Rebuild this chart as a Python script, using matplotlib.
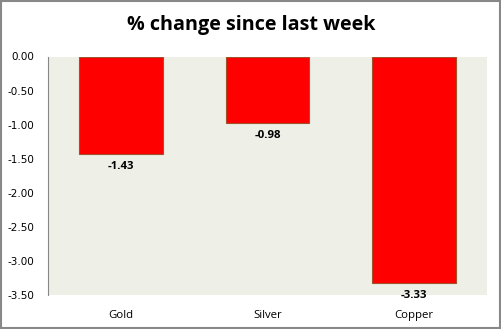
import matplotlib
matplotlib.use("Agg")
import matplotlib.pyplot as plt
from matplotlib.patches import Rectangle

categories = ["Gold", "Silver", "Copper"]
values = [-1.43, -0.98, -3.33]
yticks = [0.0, -0.5, -1.0, -1.5, -2.0, -2.5, -3.0, -3.5]

fig = plt.figure(figsize=(5.02, 3.29), dpi=100)
ax = fig.add_axes([48/502, 1-295/329, (487-48)/502, (295-56.5)/329])
ax.set_facecolor("#EEEFE7")

x = list(range(len(categories)))
bars = ax.bar(x, values, width=0.57, color="#FF0000", edgecolor="#A0522D", linewidth=0.8, zorder=2)
ax.set_xlim(-0.5, len(categories) - 0.5)
ax.set_ylim(-3.5, 0.0)
ax.set_yticks(yticks)
ax.set_yticklabels([f"{v:.2f}" for v in yticks], fontsize=7.5, family="DejaVu Sans")
ax.set_xticks(x)
ax.set_xticklabels(categories, fontsize=8.2, family="Open Sans")
ax.tick_params(axis="y", length=0, pad=10)
ax.tick_params(axis="x", length=0, pad=11)
for s in ["top", "right", "bottom"]:
    ax.spines[s].set_visible(False)
ax.spines["left"].set_color("#888888")
ax.spines["left"].set_linewidth(0.8)

for xi, v in zip(x, values):
    ax.annotate(f"{v:.2f}", (xi, v), xytext=(0, -5), textcoords="offset points",
                ha="center", va="top", fontsize=8.2, fontweight="bold", family="Open Sans")

fig.text(0.5, 1-25/329, "% change since last week", ha="center", va="center",
         fontsize=14.2, fontweight="bold", family="Open Sans")

fig.patches.append(Rectangle((0.002, 0.003), 0.994, 0.994, transform=fig.transFigure,
                             fill=False, edgecolor="#888888", linewidth=1.5))
fig.savefig("out.png", dpi=100)
